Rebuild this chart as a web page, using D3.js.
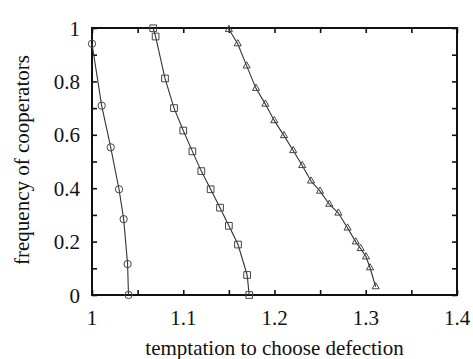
<!DOCTYPE html>
<html><head><meta charset="utf-8">
<script src="https://cdn.jsdelivr.net/npm/d3@7"></script>
<style>body{margin:0;background:#fff}svg{display:block}</style>
</head><body>
<svg id="c" width="473" height="359"></svg>
<script>
const circlesX = [1.000, 1.0106, 1.0205, 1.0296, 1.0347, 1.039, 1.040];
const circlesY = [0.941, 0.709, 0.553, 0.396, 0.284, 0.116, 0.0];
const squaresX = [1.0671, 1.0697, 1.080, 1.0899, 1.100, 1.110, 1.1198, 1.130, 1.1403, 1.150, 1.160, 1.170, 1.1723];
const squaresY = [0.999, 0.968, 0.811, 0.700, 0.616, 0.538, 0.464, 0.396, 0.327, 0.259, 0.189, 0.075, 0.0];
const trianglesX = [1.150, 1.1597, 1.1695, 1.1797, 1.190, 1.1998, 1.2104, 1.2205, 1.2304, 1.240, 1.2499, 1.260, 1.270, 1.2801, 1.289, 1.2944, 1.3003, 1.3047, 1.3109];
const trianglesY = [0.995, 0.941, 0.858, 0.774, 0.715, 0.653, 0.597, 0.541, 0.485, 0.427, 0.389, 0.340, 0.307, 0.251, 0.199, 0.174, 0.143, 0.102, 0.031];
const xTickLabels = ["1", "1.1", "1.2", "1.3", "1.4"];
const yTickLabels = ["0", "0.2", "0.4", "0.6", "0.8", "1"];
const xLabel = "temptation to choose defection";
const yLabel = "frequency of cooperators";

const FONT = "'Liberation Serif', 'Times New Roman', Times, 'DejaVu Serif', serif";
const svg = d3.select("#c");
const L = 92, R = 457, T = 28, B = 295;
const x = d3.scaleLinear().domain([1, 1.4]).range([L, R]);
const y = d3.scaleLinear().domain([0, 1]).range([B, T]);

const minorX = d3.range(0, 9).map(i => 1 + i * 0.05);
const minorY = d3.range(0, 11).map(i => i * 0.1);
const tl = 5;

const gB = svg.append("g").attr("transform", `translate(0,${B})`)
  .call(d3.axisTop(x).tickValues(minorX).tickSize(tl).tickFormat(""));
const gT = svg.append("g").attr("transform", `translate(0,${T})`)
  .call(d3.axisBottom(x).tickValues(minorX).tickSize(tl).tickFormat(""));
const gL = svg.append("g").attr("transform", `translate(${L},0)`)
  .call(d3.axisRight(y).tickValues(minorY).tickSize(tl).tickFormat(""));
const gR = svg.append("g").attr("transform", `translate(${R},0)`)
  .call(d3.axisLeft(y).tickValues(minorY).tickSize(tl).tickFormat(""));
[gB, gT, gL, gR].forEach(g => {
  g.select(".domain").remove();
  g.selectAll(".tick line").attr("stroke", "#111").attr("stroke-width", 1.6);
});
svg.append("rect").attr("x", L).attr("y", T).attr("width", R - L).attr("height", B - T)
  .attr("fill", "none").attr("stroke", "#111").attr("stroke-width", 2);

svg.append("g").selectAll("text").data(xTickLabels).join("text")
  .attr("x", d => x(+d)).attr("y", 325).attr("text-anchor", "middle")
  .attr("font-family", FONT).attr("fill", "#111")
  .attr("font-size", 21).text(d => d);
svg.append("g").selectAll("text").data(yTickLabels).join("text")
  .attr("x", 80).attr("y", d => y(+d) + 7.5).attr("text-anchor", "end")
  .attr("font-family", FONT).attr("fill", "#111")
  .attr("font-size", 21).text(d => d);

svg.append("text").attr("x", 274.5).attr("y", 355).attr("text-anchor", "middle")
  .attr("font-family", FONT).attr("fill", "#111")
  .attr("font-size", 21).text(xLabel);
svg.append("text").attr("transform", "translate(29,160) rotate(-90)").attr("text-anchor", "middle")
  .attr("font-family", FONT).attr("fill", "#111")
  .attr("font-size", 21).text(yLabel);

const line = d3.line().x(d => x(d[0])).y(d => y(d[1]));
const series = [
  {xs: circlesX, ys: circlesY, sym: d3.symbolCircle, size: 42},
  {xs: squaresX, ys: squaresY, sym: d3.symbolSquare, size: 45},
  {xs: trianglesX, ys: trianglesY, sym: d3.symbolTriangle, size: 22}
];
series.forEach(s => {
  const pts = s.xs.map((v, i) => [v, s.ys[i]]);
  svg.append("path").datum(pts).attr("d", line).attr("fill", "none")
    .attr("stroke", "#333").attr("stroke-width", 1.1);
  svg.append("g").selectAll("path").data(pts).join("path")
    .attr("transform", d => `translate(${x(d[0])},${y(d[1])})`)
    .attr("d", d3.symbol().type(s.sym).size(s.size))
    .attr("fill", "none").attr("stroke", "#444").attr("stroke-width", 1);
});
</script>
</body></html>
